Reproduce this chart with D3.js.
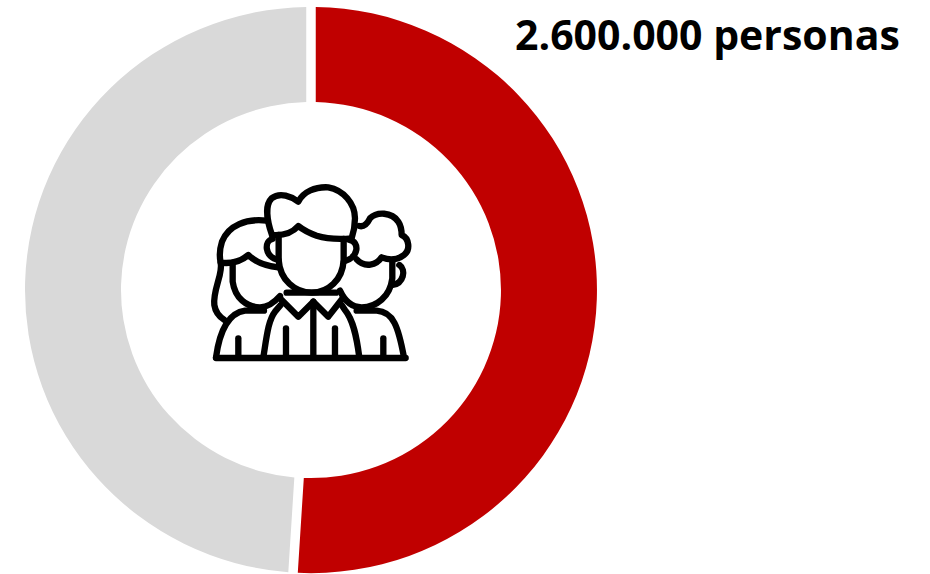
<!DOCTYPE html>
<html lang="es">
<head>
<meta charset="UTF-8">
<title>2.600.000 personas</title>
<script src="https://cdnjs.cloudflare.com/ajax/libs/d3/7.8.5/d3.min.js"></script>
<style>
    html, body { margin: 0; padding: 0; background: #fff; overflow: hidden; }
    svg { display: block; }
    .total { font-family: 'Open Sans', sans-serif; font-weight: 700; font-size: 41px; fill: #000; }
    .icon path { fill: none; stroke: #000; stroke-width: 19; stroke-linecap: round; stroke-linejoin: round; }
</style>
</head>
<body>
<script>
// Share of people
const segments = ["Afectadas", "Resto"];
const shares = [51, 49];
const colours = ["#C00000", "#D9D9D9"];
const totalLabel = "2.600.000 personas";

const width = 930, height = 574;
const cx = 311, cy = 290, outer = 286, inner = 190;
const squash = 0.99; // ring is a touch flatter than a circle in the original
const gap = 9.5;

const svg = d3.select("body").append("svg")
    .attr("width", width)
    .attr("height", height);

const pie = d3.pie().sort(null).value(d => d.share);
const arc = d3.arc()
    .innerRadius(inner)
    .outerRadius(outer)
    .padRadius(outer)
    .padAngle(gap / outer);

const data = segments.map((s, i) => ({ segment: s, share: shares[i], colour: colours[i] }));

svg.append("g")
    .attr("transform", `translate(${cx},${cy}) scale(1,${squash})`)
    .selectAll("path")
    .data(pie(data))
    .enter()
    .append("path")
    .attr("d", arc)
    .attr("fill", d => d.data.colour);

svg.append("text")
    .attr("class", "total")
    .attr("x", 515)
    .attr("y", 50)
    .text(totalLabel);

// People icon, traced at 3x
const iconPaths = [
    // centre man
    "M216,195 C200,150 195,105 215,85 C240,65 275,80 295,95 C310,65 345,50 385,52 C430,60 465,100 465,145 C465,170 460,190 455,205 C420,208 385,208 350,197 C330,190 310,180 295,168 C280,185 255,198 216,195",
    "M236,195 L236,270 C240,330 285,368 335,368 C385,368 428,330 431,270 L431,207",
    "M218,207 C192,212 192,262 236,270",
    "M448,210 C480,215 477,264 432,274",
    "M260,368 L408,368",
    "M240,385 L295,440 L340,395 L385,440 L428,385",
    "M340,395 L340,562",
    "M190,562 C200,500 205,450 225,425 L242,405",
    "M478,562 C470,500 460,450 435,420 L425,405",
    "M258,475 L258,562",
    "M405,475 L405,562",
    // woman on the left
    "M200,152 C140,145 85,165 66,215 C58,240 58,260 62,278 C95,282 125,272 145,255 C165,275 195,288 235,292",
    "M98,278 L98,335 C105,385 140,412 180,412 C205,412 225,395 240,378",
    "M62,278 C70,310 38,360 43,405 C46,425 58,440 73,450",
    "M48,562 C58,490 80,430 135,422 L192,422",
    "M115,505 L115,562",
    // man on the right
    "M478,168 C495,172 505,155 510,145 C530,125 575,125 595,155 C605,170 605,185 605,195 C628,205 632,240 612,255 C590,272 565,270 545,262 C530,285 495,295 470,268",
    "M577,270 L577,325 C570,380 530,412 485,412 C455,412 435,395 420,362",
    "M598,285 C620,300 610,340 578,345",
    "M470,422 L530,422 C580,425 595,470 612,562",
    "M550,505 L550,562",
    // base line
    "M48,564 L617,564"
];

svg.append("g")
    .attr("class", "icon")
    .attr("transform", "translate(200,170) scale(0.3333)")
    .selectAll("path")
    .data(iconPaths)
    .enter()
    .append("path")
    .attr("d", d => d);
</script>
</body>
</html>
